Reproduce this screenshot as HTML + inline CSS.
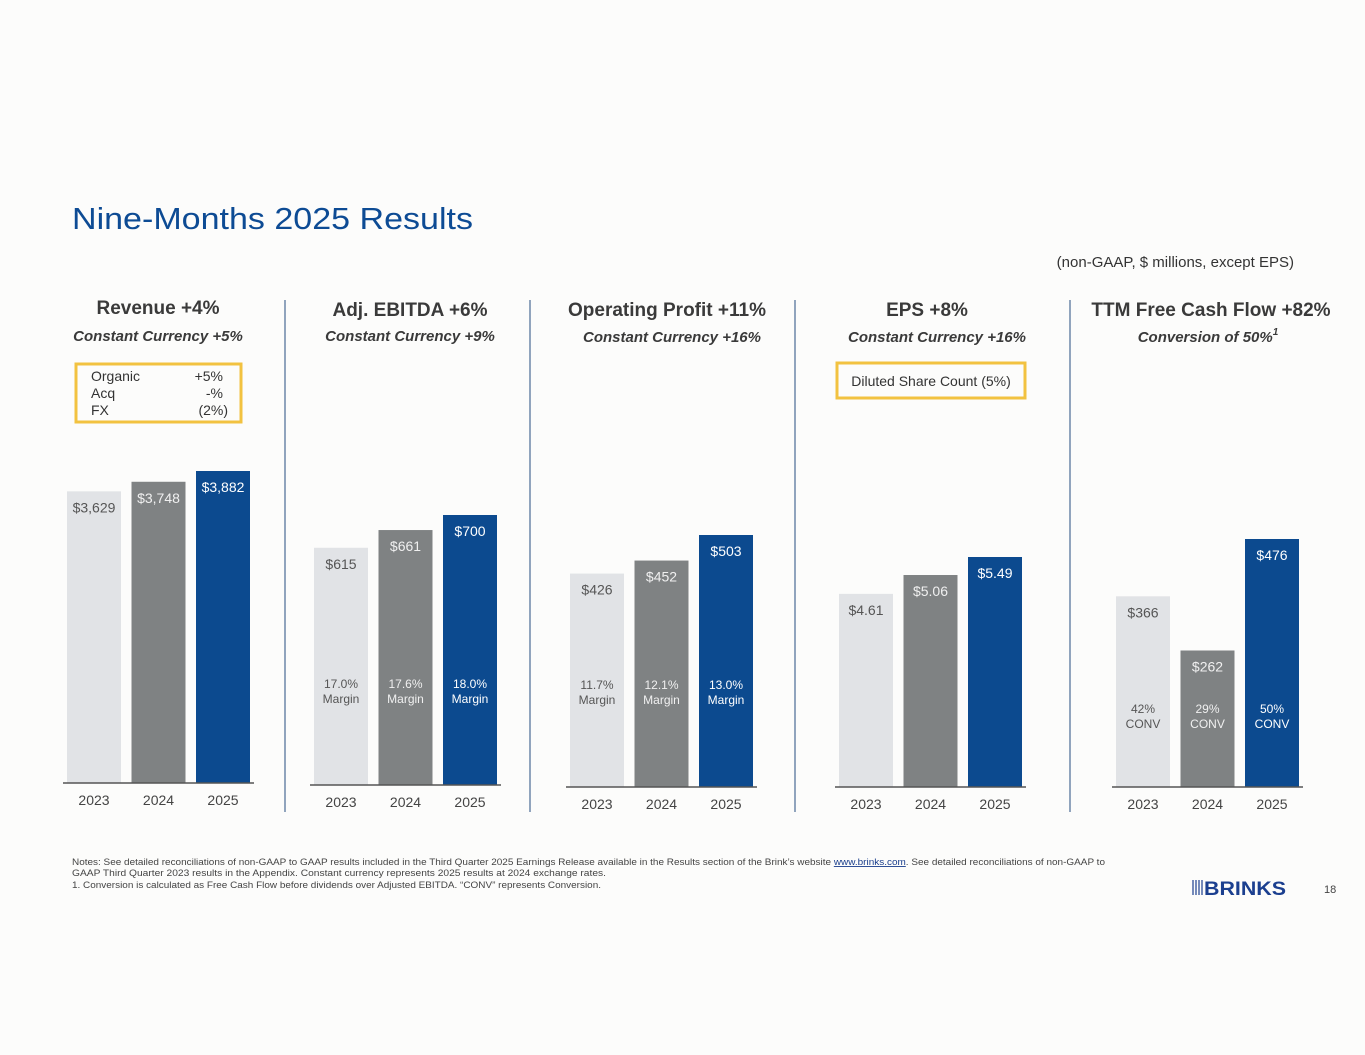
<!DOCTYPE html>
<html><head><meta charset="utf-8"><style>
body{margin:0;background:#fcfcfb;}
svg{display:block;font-family:"Liberation Sans",Arial,sans-serif;}
</style></head><body>
<svg width="1365" height="1055" viewBox="0 0 1365 1055">
<rect width="1365" height="1055" fill="#fcfcfb"/>
<text x="72" y="229" font-size="31" fill="#0d4b94" textLength="401" lengthAdjust="spacingAndGlyphs">Nine-Months 2025 Results</text>
<text x="1294" y="267" font-size="15" fill="#333" text-anchor="end">(non-GAAP, $ millions, except EPS)</text>
<g stroke="#4a6a94" stroke-width="1.2">
<line x1="285" y1="300" x2="285" y2="812"/>
<line x1="530" y1="300" x2="530" y2="812"/>
<line x1="795" y1="300" x2="795" y2="812"/>
<line x1="1070" y1="300" x2="1070" y2="812"/>
</g>
<g font-weight="bold" font-size="19" fill="#3a3a3a" text-anchor="middle">
<text x="158" y="314">Revenue +4%</text>
<text x="410" y="316">Adj. EBITDA  +6%</text>
<text x="667" y="316">Operating Profit +11%</text>
<text x="927" y="316">EPS  +8%</text>
<text x="1211" y="316">TTM Free Cash Flow +82%</text>
</g>
<g font-weight="bold" font-style="italic" font-size="15" fill="#3a3a3a" text-anchor="middle">
<text x="158" y="341">Constant Currency +5%</text>
<text x="410" y="341">Constant Currency +9%</text>
<text x="672" y="342">Constant Currency +16%</text>
<text x="937" y="342">Constant Currency +16%</text>
<text x="1208" y="342">Conversion of 50%<tspan font-size="10" dy="-7">1</tspan></text>
</g>
<g>
<rect x="76" y="364" width="165" height="58" fill="none" stroke="#f2c240" stroke-width="3"/>
<g font-size="14" fill="#333">
<text x="91" y="381">Organic</text><text x="223" y="381" text-anchor="end">+5%</text>
<text x="91" y="398">Acq</text><text x="223" y="398" text-anchor="end">-%</text>
<text x="91" y="415">FX</text><text x="228" y="415" text-anchor="end">(2%)</text>
</g></g>
<g>
<rect x="837" y="363" width="188" height="35" fill="none" stroke="#f2c240" stroke-width="3"/>
<text x="931" y="386" font-size="14" fill="#333" text-anchor="middle">Diluted Share Count (5%)</text>
</g>
<g id="charts"></g>
<g font-size="9" fill="#444">
<text x="72" y="865" textLength="1033" lengthAdjust="spacingAndGlyphs">Notes: See detailed reconciliations of non-GAAP to GAAP results included in the Third Quarter 2025 Earnings Release available in the Results section of the Brink’s website <tspan fill="#1a3e8c" text-decoration="underline">www.brinks.com</tspan>. See detailed reconciliations of non-GAAP to</text>
<text x="72" y="876" textLength="534" lengthAdjust="spacingAndGlyphs">GAAP Third Quarter 2023 results in the Appendix. Constant currency represents 2025 results at 2024 exchange rates.</text>
<text x="72" y="888" textLength="529" lengthAdjust="spacingAndGlyphs">1. Conversion is calculated as Free Cash Flow before dividends over Adjusted EBITDA. “CONV” represents Conversion.</text>
</g>
<g>
<g stroke="#1b3f8f" stroke-width="1.2">
<line x1="1193" y1="880" x2="1193" y2="895"/><line x1="1196" y1="880" x2="1196" y2="895"/><line x1="1199" y1="880" x2="1199" y2="895"/><line x1="1202" y1="880" x2="1202" y2="895"/>
</g>
<text x="1204" y="895" font-size="19" font-weight="bold" fill="#1b3f8f" textLength="82" lengthAdjust="spacingAndGlyphs">BRINKS</text>
</g>
<text x="1324" y="893" font-size="11" fill="#444">18</text>
</svg>
<script>
const years=["2023","2024","2025"];
const revenueValues=[3629,3748,3882];
const revenueLabels=["$3,629","$3,748","$3,882"];
const ebitdaValues=[615,661,700];
const ebitdaLabels=["$615","$661","$700"];
const ebitdaInner=[["17.0%","Margin"],["17.6%","Margin"],["18.0%","Margin"]];
const opValues=[426,452,503];
const opLabels=["$426","$452","$503"];
const opInner=[["11.7%","Margin"],["12.1%","Margin"],["13.0%","Margin"]];
const epsValues=[4.61,5.06,5.49];
const epsLabels=["$4.61","$5.06","$5.49"];
const fcfValues=[366,262,476];
const fcfLabels=["$366","$262","$476"];
const fcfInner=[["42%","CONV"],["29%","CONV"],["50%","CONV"]];

const NS="http://www.w3.org/2000/svg";
const root=document.getElementById('charts');
const fills=["#e1e3e6","#7f8283","#0c4a8f"];
const labelCols=["#555","#f0f0f0","#ffffff"];
function mk(tag,attrs){const e=document.createElementNS(NS,tag);for(const k in attrs)e.setAttribute(k,attrs[k]);return e;}
function chart(name,x0,baseY,maxVal,maxH,values,labels,inner,innerY){
  const g=mk('g',{});
  
  
  const y=v=>baseY-v/maxVal*maxH;
  const xb=i=>x0+i*64.5;
  values.forEach((v,i)=>{
    const r=mk('rect',{x:xb(i),y:y(v),width:54,height:baseY-y(v),fill:fills[i]});
    
    
    g.appendChild(r);
    const t=mk('text',{x:xb(i)+27,y:y(v)+21,'font-size':14,fill:labelCols[i],'text-anchor':'middle'});
    t.textContent=labels[i];
    
    
    g.appendChild(t);
    if(inner){
      const t2=mk('text',{x:xb(i)+27,y:innerY,'font-size':12,fill:labelCols[i],'text-anchor':'middle'});
      t2.innerHTML='<tspan x="'+(xb(i)+27)+'">'+inner[i][0]+'</tspan><tspan x="'+(xb(i)+27)+'" dy="15">'+inner[i][1]+'</tspan>';
      
      
      g.appendChild(t2);
    }
    const yl=mk('text',{x:xb(i)+27,y:baseY+22,'font-size':14,fill:'#444','text-anchor':'middle'});
    yl.textContent=years[i];
    
    
    g.appendChild(yl);
  });
  const ax=mk('line',{x1:x0-4,y1:baseY,x2:x0+187,y2:baseY,stroke:'#555','stroke-width':1.5});
  
  
  g.appendChild(ax);
  root.appendChild(g);
}
chart('revenue',67,783,3882,312,revenueValues,revenueLabels,null,0);
chart('ebitda',314,785,700,270,ebitdaValues,ebitdaLabels,ebitdaInner,688);
chart('op-profit',570,787,503,252,opValues,opLabels,opInner,689);
chart('eps',839,787,5.49,230,epsValues,epsLabels,null,0);
chart('fcf',1116,787,476,248,fcfValues,fcfLabels,fcfInner,713);
</script>
</body></html>
